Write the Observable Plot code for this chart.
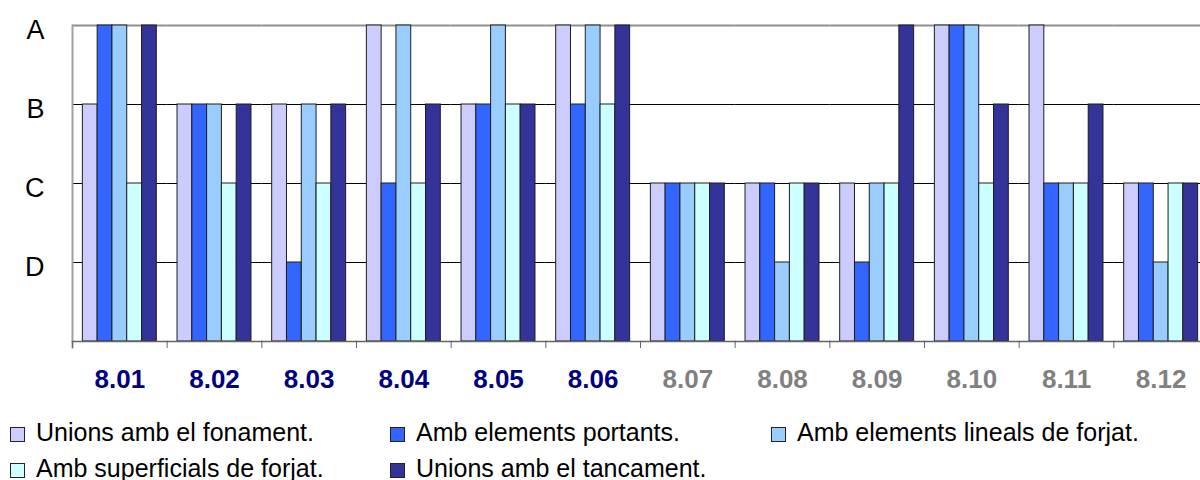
<!DOCTYPE html>
<html>
<head>
<meta charset="utf-8">
<script src="https://cdn.jsdelivr.net/npm/d3@7"></script>
<script src="https://cdn.jsdelivr.net/npm/@observablehq/plot@0.6"></script>
<style>
  html, body { margin: 0; padding: 0; background: #fff; width: 1200px; height: 480px; overflow: hidden; }
  #chart svg { max-width: none !important; display: block; }
  .legend {
    display: grid;
    grid-template-columns: 380px 381px auto;
    padding-left: 10px;
    margin-top: 14px;
    font-family: "Liberation Sans", Arial, sans-serif;
    font-size: 25px;
    color: #000;
  }
  .legend .item { display: flex; align-items: center; height: 36px; white-space: nowrap; }
  .legend .sw {
    width: 13px; height: 13px; border: 1px solid #222;
    margin-right: 11px; position: relative; top: 2px; flex: none;
  }
</style>
</head>
<body>
<div id="chart"></div>
<div id="legend" class="legend"></div>
<script>
// Sections of the assessment and the five kinds of joint rated in each
const groups = ["8.01", "8.02", "8.03", "8.04", "8.05", "8.06", "8.07", "8.08", "8.09", "8.10", "8.11", "8.12"];
const highlighted = ["8.01", "8.02", "8.03", "8.04", "8.05", "8.06"];
const series = [
  "Unions amb el fonament.",
  "Amb elements portants.",
  "Amb elements lineals de forjat.",
  "Amb superficials de forjat.",
  "Unions amb el tancament."
];
// Rating scale, lowest first
const grades = ["D", "C", "B", "A"];

// Rating per section, one list per series
const fonament     = ["B", "B", "B", "A", "B", "A", "C", "C", "C", "A", "A", "C"];
const portants     = ["A", "B", "D", "C", "B", "B", "C", "C", "D", "A", "C", "C"];
const lineals      = ["A", "B", "B", "A", "A", "A", "C", "D", "C", "A", "C", "D"];
const superficials = ["C", "C", "C", "C", "B", "B", "C", "C", "C", "C", "C", "C"];
const tancament    = ["A", "B", "B", "B", "B", "A", "C", "C", "A", "B", "B", "C"];

const seriesValues = [fonament, portants, lineals, superficials, tancament];
const colors = ["#ccccff", "#3366ff", "#99ccff", "#ccffff", "#333399"];

const rows = groups.flatMap((g, i) =>
  series.map((s, j) => ({group: g, series: s, value: grades.indexOf(seriesValues[j][i]) + 1}))
);

const W = 1210, H = 400, MT = 25, MB = 59;

const plot = Plot.plot({
  width: W,
  height: H,
  marginTop: MT,
  marginBottom: MB,
  marginLeft: 72,
  marginRight: 2,
  style: {fontFamily: "'Liberation Sans', Arial, sans-serif", maxWidth: "none", background: "#fff"},
  fx: {domain: groups, padding: 0, round: false, axis: null},
  x: {domain: series, paddingInner: 0, paddingOuter: 0.7, round: false, axis: null},
  y: {domain: [0, 4], axis: null},
  color: {domain: series, range: colors},
  marks: [
    Plot.ruleY([1, 2, 3], {stroke: "#000", strokeWidth: 1}),
    Plot.ruleY([4], {stroke: "#8f8f8f", strokeWidth: 2}),
    Plot.barY(rows, {fx: "group", x: "series", y: "value", fill: "series", stroke: "#1e1e1e", strokeWidth: 1}),
    // value axis line on the left edge only
    Plot.frame({anchor: "left", facetAnchor: "left", stroke: "#a0a0a0", strokeWidth: 2, insetBottom: -6}),
    // category axis line and the small ticks between sections
    Plot.frame({anchor: "bottom", stroke: "#666", strokeWidth: 1.5}),
    Plot.frame({anchor: "left", stroke: "#666", strokeWidth: 1, insetTop: H - MT - MB, insetBottom: -6}),
    Plot.axisY({
      ticks: [1, 2, 3, 4],
      tickFormat: d => grades[d - 1],
      label: null,
      tickSize: 0,
      tickPadding: 28,
      fontSize: 27,
      dy: 5,
      fill: "#000"
    }),
    Plot.text(groups.filter(g => highlighted.includes(g)), {
      fx: d => d, text: d => d, frameAnchor: "bottom", lineAnchor: "middle",
      dy: 38, fontSize: 26, fontWeight: "bold", fill: "#000080"
    }),
    Plot.text(groups.filter(g => !highlighted.includes(g)), {
      fx: d => d, text: d => d, frameAnchor: "bottom", lineAnchor: "middle",
      dy: 38, fontSize: 26, fontWeight: "bold", fill: "#808080"
    })
  ]
});
document.getElementById("chart").append(plot);

// Legend below the chart
const items = d3.select("#legend").selectAll("div.item")
  .data(series)
  .join("div")
  .attr("class", "item");
items.append("span").attr("class", "sw").style("background", (d, i) => colors[i]);
items.append("span").text(d => d);
</script>
</body>
</html>
